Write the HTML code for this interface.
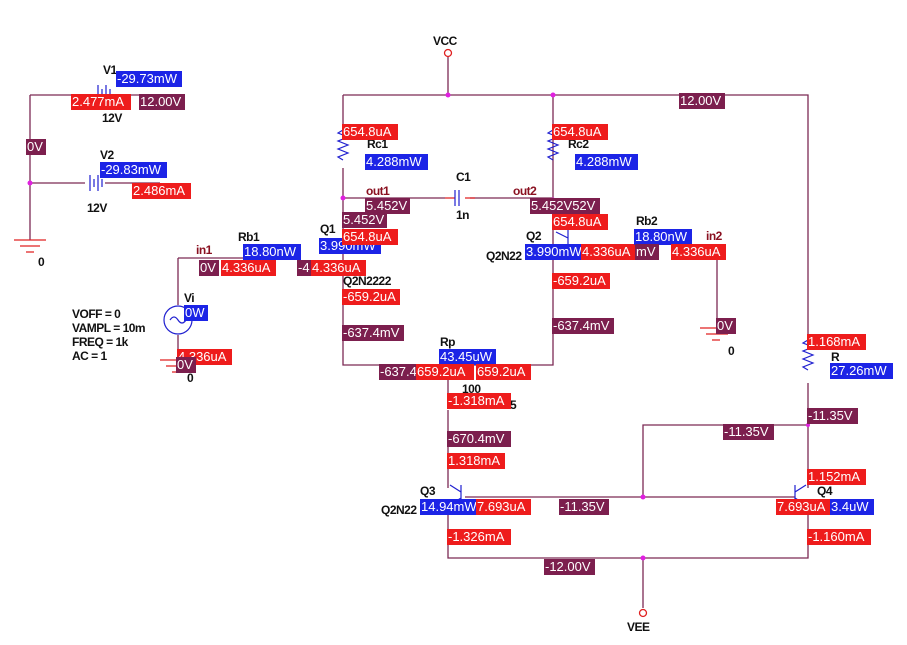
<!DOCTYPE html><html><head><style>
body{margin:0;width:907px;height:645px;background:#fff;position:relative;overflow:hidden;font-family:"Liberation Sans",sans-serif}
.l{position:absolute;height:16px;line-height:16px;font-size:13px;color:#fff;padding:0 1px;white-space:nowrap;overflow:hidden}
.r{background:#ee1c1c}.b{background:#1c24e6}.m{background:#7c1f4e}
.t{position:absolute;font-size:12px;font-weight:bold;color:#111;white-space:nowrap;letter-spacing:-0.5px}
.tm{color:#8a1020}
svg{position:absolute;left:0;top:0}
</style></head><body>
<svg width="907" height="645">
<g stroke="#7c2a55" stroke-width="1.3" fill="none">
<path d="M343 95H808V340M808 383V425H643V497M448 55V95M343 95V130M343 168V365H553V95M553 168V200M343 198H445M470 198H553M448 365V400M448 410V488M448 505V558H808V505M808 425V488M643 558V608M465 497H795"/>
<path d="M30 95H95M120 95H160M30 95V240M30 183H85M105 183H160"/>
<path d="M178 258H300M178 258V305M178 335V360M717 258V325"/>
</g>
<g stroke="#e02020" stroke-width="1.3" fill="none"><path d="M445 198H455M465 198H475"/></g>
<g stroke="#2020d0" stroke-width="1.2" fill="none">
<path d="M343 130l-5 3 10 4-10 4 10 4-10 4 10 4-10 4 5 3"/>
<path d="M553 130l-5 3 10 4-10 4 10 4-10 4 10 4-10 4 5 3"/>
<path d="M808 340l-5 3 10 4-10 4 10 4-10 4 10 4-10 4 5 3"/>
<path d="M455 190V206M459 190V206"/>
<path d="M98 85V103M102 89V99M106 85V103M110 89V99"/>
<path d="M90 175V191M94 179V187M98 175V191M102 179V187"/>
<circle cx="178" cy="320" r="14"/><path d="M170 320q4-6 8 0t8 0"/>
<path d="M461 485V505M461 492L450 485M461 498L450 505M795 485V505M795 492L806 485M795 498L806 505"/>
<path d="M568 230V245M568 238L556 232"/>
</g>
<g stroke="#e02020" stroke-width="1.3" fill="none">
<path d="M14 240H46M20 246H40M26 252H34M160 360H192M166 366H186M172 372H180M700 328H734M706 334H728M712 340H720"/>
<circle cx="448" cy="53" r="3.5" fill="#fff"/><circle cx="643" cy="613" r="3.5" fill="#fff"/>
</g>
<g fill="#e020e0"><circle cx="448" cy="95" r="2.5"/><circle cx="553" cy="95" r="2.5"/><circle cx="343" cy="198" r="2.5"/><circle cx="553" cy="200" r="2.5"/><circle cx="643" cy="497" r="2.5"/><circle cx="643" cy="558" r="2.5"/><circle cx="30" cy="183" r="2.5"/><circle cx="808" cy="425" r="2"/></g>
</svg>
<div class="t" style="left:433px;top:34px">VCC</div>
<div class="t" style="left:103px;top:63px">V1</div>
<div class="t" style="left:102px;top:111px">12V</div>
<div class="t" style="left:100px;top:148px">V2</div>
<div class="t" style="left:87px;top:201px">12V</div>
<div class="t" style="left:38px;top:255px">0</div>
<div class="t tm" style="left:196px;top:243px">in1</div>
<div class="t" style="left:238px;top:230px">Rb1</div>
<div class="t" style="left:320px;top:222px">Q1</div>
<div class="t" style="left:343px;top:274px">Q2N2222</div>
<div class="t" style="left:72px;top:307px;line-height:14px">VOFF = 0<br>VAMPL = 10m<br>FREQ = 1k<br>AC = 1</div>
<div class="t" style="left:184px;top:291px">Vi</div>
<div class="t" style="left:187px;top:371px">0</div>
<div class="t" style="left:367px;top:137px">Rc1</div>
<div class="t tm" style="left:366px;top:184px">out1</div>
<div class="t" style="left:456px;top:170px">C1</div>
<div class="t" style="left:456px;top:208px">1n</div>
<div class="t tm" style="left:513px;top:184px">out2</div>
<div class="t" style="left:568px;top:137px">Rc2</div>
<div class="t" style="left:526px;top:229px">Q2</div>
<div class="t" style="left:486px;top:249px">Q2N22</div>
<div class="t" style="left:636px;top:214px">Rb2</div>
<div class="t tm" style="left:706px;top:229px">in2</div>
<div class="t" style="left:728px;top:344px">0</div>
<div class="t" style="left:440px;top:335px">Rp</div>
<div class="t" style="left:462px;top:382px">100</div>
<div class="t" style="left:510px;top:398px">5</div>
<div class="t" style="left:420px;top:484px">Q3</div>
<div class="t" style="left:381px;top:503px">Q2N22</div>
<div class="t" style="left:817px;top:484px">Q4</div>
<div class="t" style="left:831px;top:350px">R</div>
<div class="t" style="left:627px;top:620px">VEE</div>

<div class="l b" style="left:116px;top:71px;width:64px">-29.73mW</div>
<div class="l r" style="left:71px;top:94px;width:58px">2.477mA</div>
<div class="l m" style="left:139px;top:94px;width:44px">12.00V</div>
<div class="l m" style="left:26px;top:139px;width:18px">0V</div>
<div class="l b" style="left:100px;top:162px;width:65px">-29.83mW</div>
<div class="l r" style="left:132px;top:183px;width:57px">2.486mA</div>
<div class="l m" style="left:199px;top:260px;width:18px">0V</div>
<div class="l r" style="left:221px;top:260px;width:53px">4.336uA</div>
<div class="l b" style="left:243px;top:244px;width:56px">18.80nW</div>
<div class="l b" style="left:319px;top:238px;width:60px">3.990mW</div>
<div class="l m" style="left:297px;top:260px;width:14px">-4</div>
<div class="l r" style="left:311px;top:260px;width:53px">4.336uA</div>
<div class="l m" style="left:342px;top:212px;width:43px">5.452V</div>
<div class="l r" style="left:342px;top:229px;width:54px">654.8uA</div>
<div class="l m" style="left:365px;top:198px;width:43px">5.452V</div>
<div class="l r" style="left:342px;top:124px;width:54px">654.8uA</div>
<div class="l b" style="left:365px;top:154px;width:61px">4.288mW</div>
<div class="l r" style="left:342px;top:289px;width:56px">-659.2uA</div>
<div class="l m" style="left:342px;top:325px;width:60px">-637.4mV</div>
<div class="l b" style="left:184px;top:305px;width:22px">0W</div>
<div class="l r" style="left:177px;top:349px;width:53px">4.336uA</div>
<div class="l m" style="left:176px;top:357px;width:18px">0V</div>
<div class="l b" style="left:439px;top:349px;width:55px">43.45uW</div>
<div class="l m" style="left:379px;top:364px;width:38px">-637.4</div>
<div class="l r" style="left:416px;top:364px;width:56px">659.2uA</div>
<div class="l r" style="left:476px;top:364px;width:53px">659.2uA</div>
<div class="l r" style="left:447px;top:393px;width:62px">-1.318mA</div>
<div class="l m" style="left:447px;top:431px;width:62px">-670.4mV</div>
<div class="l r" style="left:447px;top:453px;width:56px">1.318mA</div>
<div class="l b" style="left:420px;top:499px;width:56px">14.94mW</div>
<div class="l r" style="left:476px;top:499px;width:53px">7.693uA</div>
<div class="l m" style="left:559px;top:499px;width:48px">-11.35V</div>
<div class="l r" style="left:447px;top:529px;width:62px">-1.326mA</div>
<div class="l m" style="left:544px;top:559px;width:49px">-12.00V</div>
<div class="l m" style="left:723px;top:424px;width:49px">-11.35V</div>
<div class="l m" style="left:807px;top:408px;width:49px">-11.35V</div>
<div class="l r" style="left:807px;top:469px;width:57px">1.152mA</div>
<div class="l r" style="left:776px;top:499px;width:54px">7.693uA</div>
<div class="l b" style="left:830px;top:499px;width:42px">3.4uW</div>
<div class="l r" style="left:807px;top:529px;width:62px">-1.160mA</div>
<div class="l r" style="left:807px;top:334px;width:57px">1.168mA</div>
<div class="l b" style="left:830px;top:363px;width:61px">27.26mW</div>
<div class="l m" style="left:679px;top:93px;width:44px">12.00V</div>
<div class="l r" style="left:552px;top:124px;width:54px">654.8uA</div>
<div class="l b" style="left:575px;top:154px;width:61px">4.288mW</div>
<div class="l m" style="left:530px;top:198px;width:68px">5.452V52V</div>
<div class="l r" style="left:552px;top:214px;width:54px">654.8uA</div>
<div class="l b" style="left:525px;top:244px;width:56px">3.990mW</div>
<div class="l r" style="left:581px;top:244px;width:53px">4.336uA</div>
<div class="l b" style="left:634px;top:229px;width:56px">18.80nW</div>
<div class="l m" style="left:635px;top:244px;width:22px">mV</div>
<div class="l r" style="left:671px;top:244px;width:53px">4.336uA</div>
<div class="l r" style="left:552px;top:273px;width:56px">-659.2uA</div>
<div class="l m" style="left:552px;top:318px;width:60px">-637.4mV</div>
<div class="l m" style="left:716px;top:318px;width:18px">0V</div>
</body></html>
